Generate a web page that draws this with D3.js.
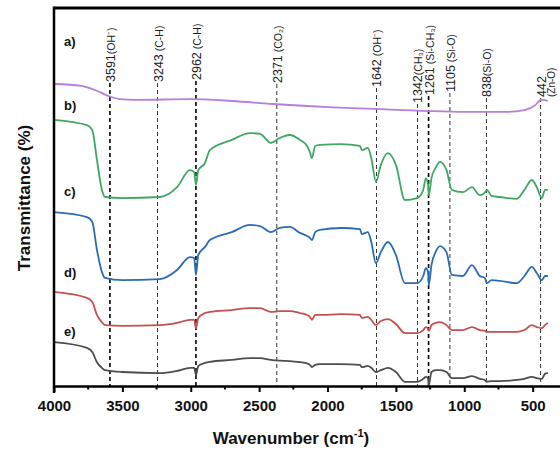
<!DOCTYPE html>
<html>
<head>
<meta charset="utf-8">
<script src="https://cdn.jsdelivr.net/npm/d3@7"></script>
<style>
  body { margin: 0; background: #fff; }
  svg { display: block; font-family: "Liberation Sans", Arial, sans-serif; }
</style>
</head>
<body>
<div id="chart"></div>
<script>
// ==========================
// DATA
// ==========================
const wnA = [4000, 3800, 3700, 3600, 3520, 3400, 3000, 2700, 2400, 2000, 1650, 1300, 1000, 700, 560, 480, 440, 420, 390];
const specA = [79.9, 79.4, 78.3, 76.7, 75.9, 75.7, 75.9, 75.4, 74.6, 73.8, 73.3, 72.8, 72.5, 72.5, 73.0, 74.3, 75.7, 75.7, 75.4];

const wn = [4000, 3759, 3720, 3686, 3650, 3627, 3500, 3225, 3100, 3006, 2975, 2962, 2945, 2896, 2860,
  2700, 2567, 2494, 2414, 2350, 2275, 2202, 2150, 2129, 2114, 2090, 2056, 1900, 1763, 1749, 1705,
  1680, 1646, 1610, 1558, 1500, 1434, 1346, 1300, 1281, 1265, 1259, 1240, 1210, 1178, 1130, 1091,
  1010, 944, 886, 850, 835, 800, 740, 616, 560, 506, 470, 433, 410, 389];

const specB = [70.4, 69.0, 67.7, 59.8, 51.9, 50.0, 49.7, 50.0, 52.6, 57.1, 56.6, 53.2, 57.1, 59.0, 62.4,
  65.1, 66.9, 66.7, 64.3, 65.6, 66.4, 65.1, 63.5, 61.9, 60.3, 63.5, 63.8, 64.0, 63.5, 62.4, 63.0,
  60.3, 54.0, 58.5, 61.6, 58.5, 49.2, 49.7, 51.9, 55.0, 53.2, 50.5, 55.0, 57.7, 59.3, 57.1, 51.9,
  51.3, 52.6, 50.5, 51.1, 51.9, 50.3, 50.0, 49.5, 51.9, 54.5, 52.6, 49.7, 51.9, 51.9];

const specC = [46.0, 44.7, 43.4, 36.0, 30.2, 28.6, 28.0, 28.3, 30.7, 34.1, 33.9, 29.4, 34.7, 36.8, 38.6,
  40.7, 42.6, 42.3, 40.7, 41.8, 42.1, 40.5, 39.7, 39.2, 38.6, 40.7, 41.3, 41.8, 41.5, 40.2, 40.7,
  38.1, 32.5, 35.4, 38.1, 34.7, 27.2, 27.2, 29.1, 31.2, 30.2, 26.7, 32.0, 35.4, 37.0, 35.4, 29.4,
  29.1, 32.0, 29.1, 28.6, 27.2, 28.0, 27.8, 27.2, 29.1, 31.5, 29.9, 28.0, 29.1, 29.1];

const specD = [24.9, 23.3, 22.2, 18.8, 16.9, 16.1, 15.9, 16.1, 16.7, 17.5, 17.5, 15.3, 18.0, 19.3, 19.6,
  20.1, 20.6, 20.6, 19.6, 19.8, 19.8, 19.3, 18.8, 18.3, 17.5, 18.8, 18.8, 19.0, 18.8, 18.0, 18.3,
  17.5, 16.1, 17.2, 17.7, 16.4, 14.0, 14.0, 14.8, 15.6, 15.2, 14.6, 16.1, 16.7, 16.9, 16.1, 14.8,
  14.8, 15.6, 14.8, 14.6, 14.3, 14.3, 14.3, 14.3, 14.8, 16.1, 15.6, 15.3, 16.1, 16.7];

const specE = [11.6, 10.1, 9.0, 6.3, 4.8, 4.2, 3.7, 3.4, 4.0, 4.8, 4.8, 2.9, 5.3, 6.1, 6.4,
  6.9, 7.4, 7.4, 6.9, 6.7, 6.6, 6.3, 6.0, 5.6, 5.0, 5.6, 5.8, 5.8, 5.6, 5.0, 5.3,
  4.8, 3.7, 4.2, 4.8, 3.7, 1.1, 1.1, 1.9, 2.4, 2.0, 0.3, 3.7, 4.2, 4.2, 3.7, 2.1,
  2.1, 2.6, 1.9, 1.6, 1.1, 1.3, 1.3, 1.6, 1.9, 2.4, 2.1, 1.9, 3.2, 3.4];

const sampleNames = ["a)", "b)", "c)", "d)", "e)"];

// assigned bands
const bandWn = [3591, 3243, 2962, 2371, 1642, 1342, 1261, 1105, 838, 442];
const bandNum = ["3591", "3243", "2962", "2371", "1642", "1342", "1261", "1105", "838", "442"];
const bandGroup = ["(OH⁻)", " (C-H)", " (C-H)", " (CO₂)", " (OH⁻)", "(CH₃)", " (Si-CH₃)", " (Si-O)", "(Si-O)", "(Zn-O)"];

const xTicks = [4000, 3500, 3000, 2500, 2000, 1500, 1000, 500];

// ==========================
// LAYOUT
// ==========================
const width = 560;
const height = 453;
const margin = { top: 8, right: 0, bottom: 67, left: 54 };

const colors = ["#b77fd9", "#3fa763", "#2a6cb3", "#c4504f", "#4d4d4d"];
const labelBase = [82, 82, 80, 83, 87, 103, 95, 92, 97, 97];   // bottom of each rotated band label
const boldBand = [true, false, true, false, false, false, true, false, false, false];
const nameY = [43, 107, 193, 274, 333];

const svg = d3.select("#chart")
  .append("svg")
  .attr("width", width)
  .attr("height", height);

const x = d3.scaleLinear()
  .domain([4000, 300])
  .range([margin.left, width - margin.right]);

const y = d3.scaleLinear()
  .domain([0, 100])
  .range([height - margin.bottom, margin.top]);

// dashed band lines
bandWn.forEach((w, i) => {
  svg.append("line")
    .attr("x1", x(w)).attr("x2", x(w))
    .attr("y1", labelBase[i] + 1)
    .attr("y2", height - margin.bottom)
    .attr("stroke", boldBand[i] ? "#000" : "#333")
    .attr("stroke-width", boldBand[i] ? 1.6 : 1)
    .attr("stroke-dasharray", "4,3");

  const t = svg.append("text")
    .attr("transform", `translate(${x(w) + 5},${labelBase[i]}) rotate(-90)`)
    .attr("fill", "#222");

  if (w === 442) {
    // two-line label on the right edge
    t.append("tspan").attr("x", 0).attr("y", 0).attr("font-size", 12.5).text(bandNum[i]);
    t.append("tspan").attr("x", 0).attr("y", 9).attr("font-size", 10).text(bandGroup[i]);
    return;
  }

  t.append("tspan").attr("font-size", 12.5).text(bandNum[i]);
  t.append("tspan").attr("font-size", 10.5).text(bandGroup[i]);
});

// spectra
const line = d3.line()
  .x(d => x(d[0]))
  .y(d => y(d[1]))
  .curve(d3.curveMonotoneX);

const series = [
  d3.zip(wnA, specA),
  d3.zip(wn, specB),
  d3.zip(wn, specC),
  d3.zip(wn, specD),
  d3.zip(wn, specE)
];

series.forEach((s, i) => {
  svg.append("path")
    .datum(s)
    .attr("d", line)
    .attr("fill", "none")
    .attr("stroke", colors[i])
    .attr("stroke-width", 1.8)
    .attr("stroke-linejoin", "round");

  svg.append("text")
    .attr("x", 64)
    .attr("y", nameY[i])
    .attr("dominant-baseline", "middle")
    .attr("font-size", 13)
    .attr("font-weight", "bold")
    .attr("fill", "#111")
    .text(sampleNames[i]);
});

// frame: top, left, bottom
const x0 = margin.left, x1 = width - margin.right;
const y0 = margin.top, y1 = height - margin.bottom;

svg.append("line")
  .attr("x1", x0).attr("x2", x1 + 2)
  .attr("y1", y0).attr("y2", y0)
  .attr("stroke", "#000").attr("stroke-width", 3);

svg.append("line")
  .attr("x1", x0).attr("x2", x0)
  .attr("y1", y0 - 1.5).attr("y2", y1 + 7)
  .attr("stroke", "#000").attr("stroke-width", 2.5);

// x axis
const xAxis = d3.axisBottom(x)
  .tickValues(xTicks)
  .tickSize(6)
  .tickFormat(d3.format("d"));

const gx = svg.append("g")
  .attr("transform", `translate(0,${y1})`)
  .call(xAxis);

gx.select(".domain").attr("stroke-width", 2.5).attr("d", `M${x0},0.5H${x1 + 2}`);
gx.selectAll(".tick line").attr("stroke-width", 2);
gx.selectAll(".tick text")
  .attr("dy", "1.05em")
  .attr("font-size", 15)
  .attr("font-weight", "bold")
  .attr("font-family", "'Liberation Sans', Arial, sans-serif")
  .attr("fill", "#111");

// minor ticks
gx.selectAll(".minor")
  .data(d3.range(3750, 300, -500))
  .enter()
  .append("line")
  .attr("class", "minor")
  .attr("x1", d => x(d)).attr("x2", d => x(d))
  .attr("y1", 0).attr("y2", 3.5)
  .attr("stroke", "#000")
  .attr("stroke-width", 2);

// axis titles
const xt = svg.append("text")
  .attr("x", 291)
  .attr("y", 444)
  .attr("text-anchor", "middle")
  .attr("font-size", 17)
  .attr("font-weight", "bold")
  .attr("fill", "#111");
xt.append("tspan").text("Wavenumber (cm");
xt.append("tspan").attr("font-size", 11).attr("dy", -7).text("-1");
xt.append("tspan").attr("dy", 7).text(")");

svg.append("text")
  .attr("transform", `translate(30,198) rotate(-90)`)
  .attr("text-anchor", "middle")
  .attr("font-size", 17)
  .attr("font-weight", "bold")
  .attr("fill", "#111")
  .text("Transmittance (%)");
</script>
</body>
</html>
